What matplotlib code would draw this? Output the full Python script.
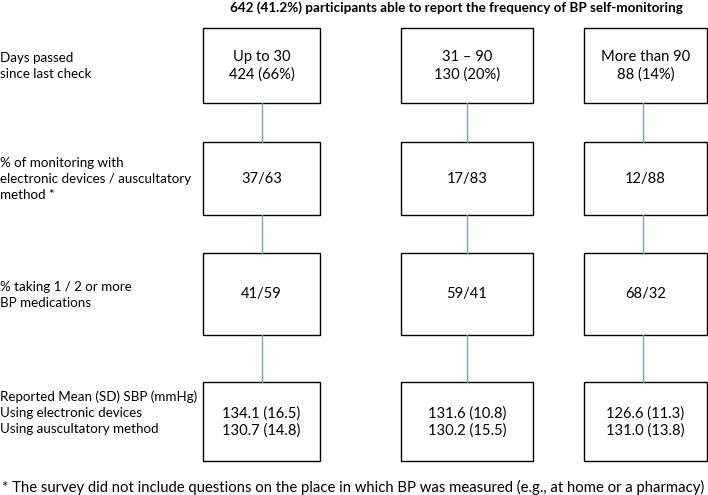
import matplotlib
matplotlib.use("Agg")
import matplotlib.pyplot as plt
from matplotlib.patches import Rectangle

plt.rcParams["font.family"] = ["Lato", "DejaVu Sans"]

title = "642 (41.2%) participants able to report the frequency of BP self-monitoring"
footnote = "* The survey did not include questions on the place in which BP was measured (e.g., at home or a pharmacy)"

row_labels = [
    "Days passed\nsince last check",
    "% of monitoring with\nelectronic devices / auscultatory\nmethod *",
    "% taking 1 / 2 or more\nBP medications",
    "Reported Mean (SD) SBP (mmHg)\nUsing electronic devices\nUsing auscultatory method",
]

groups = ["Up to 30", "31 \u2013 90", "More than 90"]
counts = [424, 130, 88]
count_pct = [66, 20, 14]
electronic_pct = [37, 17, 12]
auscultatory_pct = [63, 83, 88]
one_med_pct = [41, 59, 68]
two_med_pct = [59, 41, 32]
sbp_elec_mean = [134.1, 131.6, 126.6]
sbp_elec_sd = [16.5, 10.8, 11.3]
sbp_ausc_mean = [130.7, 130.2, 131.0]
sbp_ausc_sd = [14.8, 15.5, 13.8]

# layout in pixels (y downwards)
col_x = [(203, 320), (401, 533), (584, 707)]
link_x = [261.5, 467, 643]
row_y = [(28, 103), (142, 215), (253, 335), (382, 461)]
label_y = [66, 179, 295, 413]

fig = plt.figure(figsize=(7.08, 4.95), dpi=100)
ax = fig.add_axes([0, 0, 1, 1])
ax.set_xlim(0, 708)
ax.set_ylim(495, 0)
ax.axis("off")

ax.text(456, 8, title, ha="center", va="center", fontsize=9.7, fontweight="bold")

for lab, y in zip(row_labels, label_y):
    ax.text(0, y, lab, ha="left", va="center", fontsize=9.6, linespacing=1.38)

for j in range(3):
    cells = [
        f"{groups[j]}\n{counts[j]} ({count_pct[j]}%)",
        f"{electronic_pct[j]}/{auscultatory_pct[j]}",
        f"{one_med_pct[j]}/{two_med_pct[j]}",
        f"{sbp_elec_mean[j]:.1f} ({sbp_elec_sd[j]:.1f})\n{sbp_ausc_mean[j]:.1f} ({sbp_ausc_sd[j]:.1f})",
    ]
    x0, x1 = col_x[j]
    cx = (x0 + x1) / 2
    for i, (y0, y1) in enumerate(row_y):
        ax.add_patch(Rectangle((x0, y0), x1 - x0, y1 - y0, fill=False,
                               edgecolor="black", linewidth=1.0))
        ty = (y0 + y1) / 2 if i != 3 else 422
        ax.text(cx, ty, cells[i], ha="center", va="center", fontsize=10.6,
                linespacing=1.3)
        if i < 3:
            ax.plot([link_x[j], link_x[j]], [y1, row_y[i + 1][0]],
                    color="#7f9fc4", linewidth=1.0)

ax.text(2, 487, footnote, ha="left", va="center", fontsize=10.7)

fig.savefig("out.png", dpi=100)
